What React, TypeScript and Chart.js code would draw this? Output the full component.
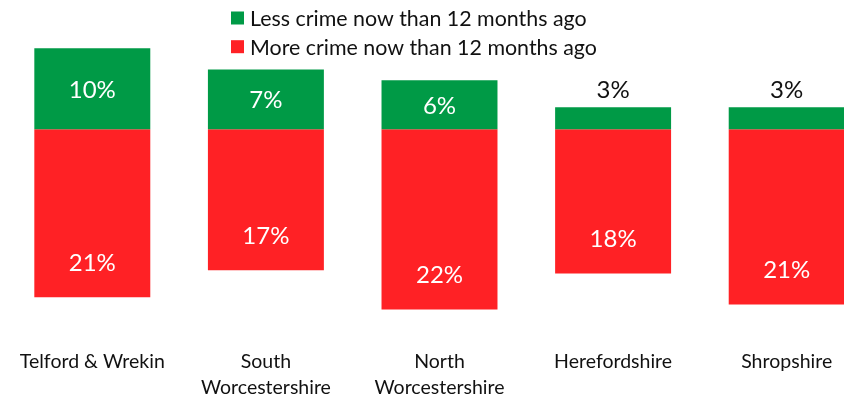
import React, { useEffect, useRef } from "react";
import { Chart, registerables } from "chart.js";

Chart.register(...registerables);

const categories: string[][] = [
  ["Telford & Wrekin"],
  ["South", "Worcestershire"],
  ["North", "Worcestershire"],
  ["Herefordshire"],
  ["Shropshire"],
];
const lessCrime: number[] = [9.9, 7.3, 6.0, 2.7, 2.7];
const moreCrime: number[] = [20.5, 17.2, 22.0, 17.6, 21.4];
const seriesNames: string[] = [
  "Less crime now than 12 months ago",
  "More crime now than 12 months ago",
];
const seriesColors: string[] = ["#009A46", "#FF2125"];

const FONT = "Lato, 'Open Sans', sans-serif";

const legendPlugin = {
  id: "customLegend",
  afterDraw(chart: any) {
    const ctx = chart.ctx;
    ctx.save();
    chart.data.datasets.forEach((ds: any, i: number) => {
      const cy = 18 + 28.7 * i;
      ctx.fillStyle = ds.backgroundColor;
      ctx.fillRect(231, cy - 6.5, 13, 13);
      ctx.fillStyle = "#111";
      ctx.font = `21.4px ${FONT}`;
      ctx.textBaseline = "middle";
      ctx.textAlign = "left";
      ctx.fillText(ds.label, 250, cy + 1);
    });
    ctx.restore();
  },
};

const labelPlugin = {
  id: "barLabels",
  afterDatasetsDraw(chart: any) {
    const ctx = chart.ctx;
    ctx.save();
    ctx.font = `24px ${FONT}`;
    ctx.textAlign = "center";
    ctx.textBaseline = "middle";
    chart.data.datasets.forEach((ds: any, di: number) => {
      const meta = chart.getDatasetMeta(di);
      meta.data.forEach((el: any, i: number) => {
        const v = Math.abs(ds.data[i]);
        const text = `${Math.round(v)}%`;
        const top = Math.min(el.y, el.base);
        const bottom = Math.max(el.y, el.base);
        const h = bottom - top;
        if (di === 0) {
          if (h >= 35) {
            ctx.fillStyle = "#ffffff";
            ctx.fillText(text, el.x, (top + bottom) / 2 + 1);
          } else {
            ctx.fillStyle = "#111";
            ctx.fillText(text, el.x, top - 17);
          }
        } else {
          ctx.fillStyle = "#ffffff";
          ctx.fillText(text, el.x, bottom - 34);
        }
      });
    });
    ctx.restore();
  },
};

export default function App() {
  const ref = useRef<HTMLCanvasElement | null>(null);

  useEffect(() => {
    if (!ref.current) return;
    const chart = new Chart(ref.current, {
      type: "bar",
      data: {
        labels: categories,
        datasets: [
          {
            label: seriesNames[0],
            data: lessCrime,
            backgroundColor: seriesColors[0],
            borderWidth: 0,
          },
          {
            label: seriesNames[1],
            data: moreCrime.map((v) => -v),
            backgroundColor: seriesColors[1],
            borderWidth: 0,
          },
        ],
      },
      options: {
        responsive: false,
        animation: false,
        devicePixelRatio: 1,
        layout: { padding: { left: 5.5, right: 6.5, top: 20, bottom: 0 } },
        datasets: {
          bar: { barPercentage: 0.668, categoryPercentage: 1 },
        },
        plugins: {
          legend: { display: false },
          tooltip: { enabled: false },
        },
        scales: {
          x: {
            stacked: true,
            grid: { display: false, drawTicks: false },
            border: { display: false },
            ticks: {
              color: "#111",
              font: { family: FONT, size: 19.5, lineHeight: 1.3 },
              padding: 29.5,
              maxRotation: 0,
              autoSkip: false,
            },
            afterFit: (scale: any) => {
              scale.height = 77;
              scale.paddingLeft = 0;
              scale.paddingRight = 0;
            },
          },
          y: {
            stacked: true,
            display: false,
            min: -23.28,
            max: 13.35,
          },
        },
      },
      plugins: [labelPlugin, legendPlugin],
    });
    return () => chart.destroy();
  }, []);

  return (
    <div
      style={{
        position: "fixed",
        left: 0,
        top: 0,
        width: 844,
        height: 397,
        overflow: "hidden",
        background: "#fff",
      }}
    >
      <canvas ref={ref} width={880} height={397} style={{ display: "block" }} />
    </div>
  );
}
